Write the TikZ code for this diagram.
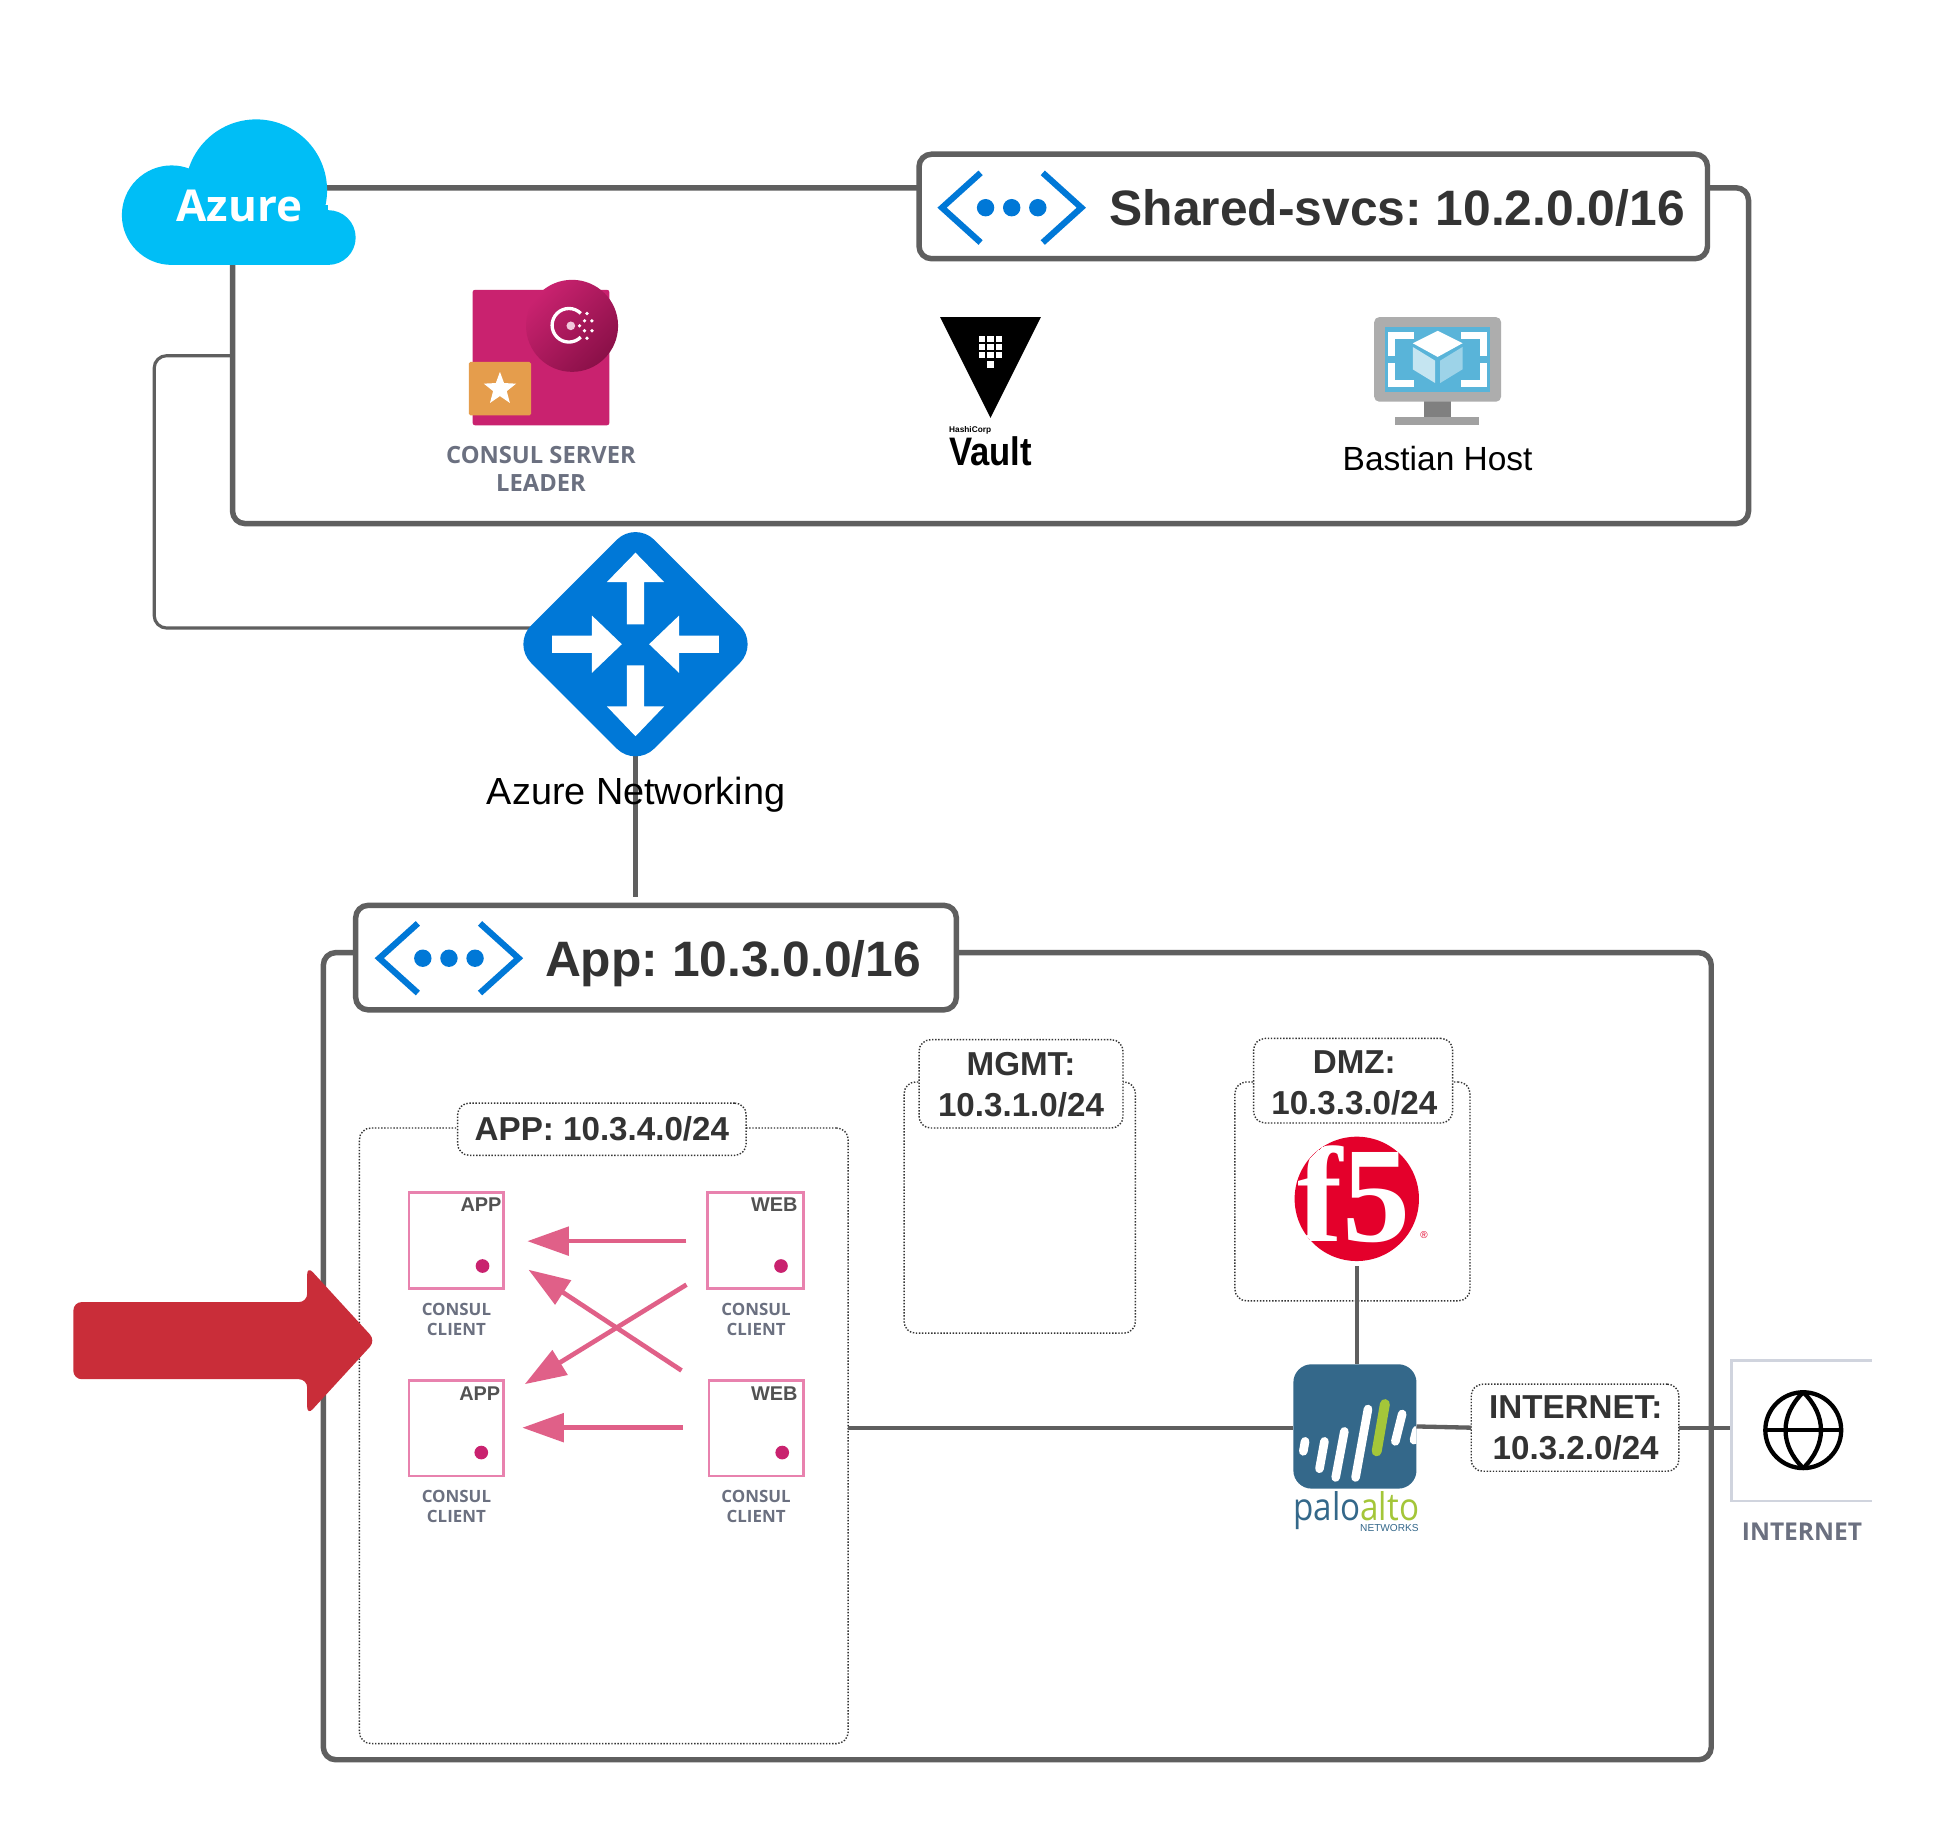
\documentclass[tikz,border=0pt]{standalone}
\usepackage{fontspec}
\setmainfont{Liberation Sans}
\newfontfamily\opensf{Open Sans}
\newfontfamily\serifb{Liberation Serif}
\usetikzlibrary{fit,shapes.geometric,arrows.meta}
\frenchspacing
\definecolor{wirec}{HTML}{5F5F5F}
\definecolor{azblue}{HTML}{0078D7}
\definecolor{cloudc}{HTML}{00BEF6}
\definecolor{txtdark}{HTML}{333333}
\definecolor{txtgray}{HTML}{6B7080}
\definecolor{consulc}{HTML}{C9226F}
\definecolor{consuld}{HTML}{8A1048}
\definecolor{consulo}{HTML}{E59D4C}
\definecolor{pinkb}{HTML}{E882AE}
\definecolor{pinka}{HTML}{E06088}
\definecolor{redc}{HTML}{C92D39}
\definecolor{paloc}{HTML}{34688A}
\definecolor{palog}{HTML}{A4C639}
\definecolor{f5red}{HTML}{E4002B}
\definecolor{vmscreen}{HTML}{59B4D9}
\definecolor{vmleft}{HTML}{C5E5F1}
\definecolor{vmright}{HTML}{9DD3E8}
\definecolor{inetb}{HTML}{D0D4DE}
\tikzset{
  bigbox/.style={draw=wirec,line width=3.3pt,rounded corners=7.5pt,inner sep=0pt,outer sep=0pt},
  labelbox/.style={bigbox,fill=white},
  subnet/.style={draw=black!80,line width=.85pt,dash pattern=on .85pt off 1pt,rounded corners=7pt,inner sep=0pt,outer sep=0pt},
  sublabel/.style={subnet,fill=white},
  card/.style={draw=pinkb,line width=1.5pt,inner sep=0pt,outer sep=0pt},
  wire/.style={draw=wirec,line width=2.6pt},
  thinwire/.style={draw=wirec,line width=1.9pt,rounded corners=7.5pt},
  flow/.style={draw=pinka,fill=pinka,line width=2.8pt,-{Triangle[length=25pt,width=17pt]}},
  bigtxt/.style={font=\bfseries\fontsize{30}{36}\selectfont,text=txtdark,inner sep=0pt},
  subtxt/.style={font=\bfseries\fontsize{20}{24.75}\selectfont,text=txtdark,align=center,inner sep=0pt},
  ctxt/.style={font=\opensf\bfseries\fontsize{10.2}{12}\selectfont,text=txtgray,align=center,inner sep=0pt},
  cardtxt/.style={font=\bfseries\fontsize{12}{14}\selectfont,text=black!68,inner sep=0pt,anchor=east},
  vnet/.pic={
    \draw[azblue,line width=3.75pt] (-25,-28)--(-56,0)--(-25,28);
    \draw[azblue,line width=3.75pt] (25,-28)--(56,0)--(25,28);
    \foreach \p in {-21,0,21}{\fill[azblue] (\p,0) circle[radius=7];}
  }
}
\begin{document}
\begin{tikzpicture}[x=.75pt,y=-.75pt]
\useasboundingbox (0,0) rectangle (1568,1476.3);
\fill[white] (0,0) rectangle (1568,1476.3);

% outer boxes
\node[bigbox,fit={(187,151)(1406,421)}] (sharedbox) {};
\node[bigbox,fit={(260,766)(1376,1415)}] (appbox) {};

% wires
\coordinate (wa) at (187,286);
\coordinate (wb) at (124,286);
\coordinate (wc) at (124,505);
\coordinate (wd) at (445,505);
\coordinate (we) at (511,721);
\draw[thinwire] (wa) -- (wb) -- (wc) -- (wd);

% cloud
\node[inner sep=0pt,minimum size=1pt] (azure) at (192.5,166) {};
\fill[cloudc] (206,153) circle[radius=57];
\fill[cloudc] (138,173) circle[radius=40];
\fill[cloudc] (264,191) circle[radius=22];
\fill[cloudc] (138,165) rectangle (264,213);
\node[font=\opensf\bfseries\fontsize{26.5}{30}\selectfont,text=white,inner sep=0pt] at (azure) {Azure};

% shared label
\node[labelbox,fit={(739,124)(1373,208)}] (sharedlabel) {};
\pic at (813.5,167) {vnet};
\node[bigtxt,anchor=west] (sharedtxt) at (892,167) {Shared-svcs: 10.2.0.0/16};

% consul server
\fill[consulc,rounded corners=1.5pt] (380,233) rectangle (490,342);
\shade[left color=consulc,right color=consuld,shading angle=45] (460,262) circle[radius=37];
\draw[white,line width=2pt] (467,252) arc[start angle=-45,end angle=-315,radius=13.5];
\fill[white!75!consulc] (459,262) circle[radius=3.5];
\foreach \a/\b in {472/252,470/258,476/258,466/262,470/266,476/266,472/272}{\fill[white] (\a,\b) circle[radius=1.5];}
\fill[consulo,rounded corners=1pt] (377,291) rectangle (427,334);
\fill[white] (402,299) -- (405.3,308) -- (415,308.5) -- (407.5,314.5) -- (410,324) -- (402,318.5) -- (394,324) -- (396.5,314.5) -- (389,308.5) -- (398.7,308) -- cycle;
\node[font=\opensf\bfseries\fontsize{14.3}{17.25}\selectfont,text=txtgray,align=center,inner sep=0pt] (consultxt) at (435,377) {CONSUL SERVER\\LEADER};

% vault
\fill[black] (756,255) -- (837,255) -- (796.5,336) -- cycle;
\foreach \yy in {272.5,279,285.5}{\foreach \xx in {789.5,796.5,803.5}{\fill[white] (\xx-2.6,\yy-2.6) rectangle (\xx+2.6,\yy+2.6);}}
\fill[white] (793.9,290.4) rectangle (799.1,295.6);
\node[font=\bfseries\fontsize{5}{6}\selectfont,anchor=west,inner sep=0pt] at (763,346) {HashiCorp};
\node[font=\bfseries\fontsize{24}{28}\selectfont,anchor=west,inner sep=0pt] at (763,363) {\scalebox{.87}[1]{Vault}};

% bastian
\fill[black!50] (1145,320) rectangle (1167,336);
\fill[black!37] (1122,335) rectangle (1189,342);
\fill[black!32,rounded corners=3pt] (1105,255) rectangle (1207,323);
\fill[vmscreen] (1114,263) rectangle (1198,315);
\foreach \sx/\sy in {-1/-1,1/-1,-1/1,1/1}{
  \draw[white,line width=4.2pt] (1156+\sx*19,289+\sy*19) -- (1156+\sx*37,289+\sy*19) -- (1156+\sx*37,289+\sy*3);
}
\fill[white] (1156,266) -- (1176,276) -- (1156,287) -- (1136,276) -- cycle;
\fill[vmleft] (1136,279) -- (1154,290) -- (1154,308) -- (1136,297) -- cycle;
\fill[vmright] (1158,290) -- (1176,279) -- (1176,297) -- (1158,308) -- cycle;
\node[font=\fontsize{20.2}{24}\selectfont,inner sep=0pt] (bastian) at (1156,369) {Bastian Host};

% router
\draw[wire] (511,560) coordinate (rr) -- (we);
\node[diamond,aspect=1,fill=azblue,inner sep=0pt,outer sep=0pt,minimum width=148.5pt,minimum height=148.5pt,rounded corners=16pt] (router) at (511,518) {};
\begin{scope}[shift={(511,518)}]
\fill[white] (0,-73.6) -- (23,-50) -- (7,-50) -- (7,-16) -- (-7,-16) -- (-7,-50) -- (-23,-50) -- cycle;
\fill[white] (0,74) -- (23,50) -- (7,50) -- (7,17) -- (-7,17) -- (-7,50) -- (-23,50) -- cycle;
\fill[white] (-11,0) -- (-35,-23) -- (-35,-7) -- (-67,-7) -- (-67,7) -- (-35,7) -- (-35,23) -- cycle;
\fill[white] (11,0) -- (35,-23) -- (35,-7) -- (67,-7) -- (67,7) -- (35,7) -- (35,23) -- cycle;
\end{scope}
\node[font=\fontsize{22.8}{27}\selectfont,inner sep=0pt] (routertxt) at (511.5,639) {Azure Networking};

% app label
\node[labelbox,fit={(286,728)(769,812)}] (applabel) {};
\pic at (361,770.5) {vnet};
\node[bigtxt,anchor=west] (apptxt) at (438,774.5) {App: 10.3.0.0/16};

% subnets
\node[subnet,fit={(289,907)(682,1402)}] (appsub) {};
\node[sublabel,fit={(368,887)(600,929)}] (applbl) {};
\node[subtxt] at (applbl) {APP: 10.3.4.0/24};
\node[subnet,fit={(727,870)(913,1072)}] (mgmtsub) {};
\node[sublabel,fit={(739,836)(903,907)}] (mgmtlbl) {};
\node[subtxt] at (821,872) {MGMT:\\10.3.1.0/24};
\node[subnet,fit={(993,870)(1182,1046)}] (dmzsub) {};
\node[sublabel,fit={(1008,835)(1168,903)}] (dmzlbl) {};
\node[subtxt] at (1089,871) {DMZ:\\10.3.3.0/24};

% cards
\node[card,fit={(329,959)(405,1036)}] (app1) {};
\node[card,fit={(569,959)(646,1036)}] (web1) {};
\node[card,fit={(329,1110)(405,1187)}] (app2) {};
\node[card,fit={(570,1110)(646,1187)}] (web2) {};
\node[cardtxt] at (403.5,969) {APP};
\node[cardtxt] at (641.5,969) {WEB};
\node[cardtxt] at (402.5,1121) {APP};
\node[cardtxt] at (641.5,1121) {WEB};
\foreach \a/\b in {388/1018,628/1018,387/1168,629/1168}{\fill[consulc] (\a,\b) circle[radius=5.5];}
\node[ctxt] at (367,1061) {CONSUL\\CLIENT};
\node[ctxt] at (608,1061) {CONSUL\\CLIENT};
\node[ctxt] at (367,1211) {CONSUL\\CLIENT};
\node[ctxt] at (608,1211) {CONSUL\\CLIENT};

% pink arrows
\coordinate (f1a) at (552,998); \coordinate (f1b) at (424,998);
\coordinate (f2a) at (548,1102); \coordinate (f2b) at (425,1021);
\coordinate (f3a) at (552,1033); \coordinate (f3b) at (422,1113);
\coordinate (f4a) at (549,1148); \coordinate (f4b) at (420,1148);
\draw[flow] (f1a) -- (f1b);
\draw[flow] (f2a) -- (f2b);
\draw[flow] (f3a) -- (f3b);
\draw[flow] (f4a) -- (f4b);

% red arrow
\fill[redc,rounded corners=5pt] (59,1047) -- (247,1047) -- (247,1018) -- (302,1078) -- (247,1138) -- (247,1109) -- (59,1109) -- cycle;

% f5
\node[inner sep=0pt,outer sep=0pt,circle,minimum size=75pt,fill=f5red] (f5logo) at (1091,964) {};
\begin{scope}
\clip (1091,964) circle[radius=50];
\node[font=\serifb\bfseries\fontsize{82}{82}\selectfont,text=white,inner sep=0pt] at (1089,960) {f5};
\end{scope}
\node[font=\fontsize{6}{7}\selectfont,text=f5red,inner sep=0pt] at (1145,993) {®};

% palo alto
\node[fill=paloc,rounded corners=11pt,inner sep=0pt,outer sep=0pt,fit={(1040,1097)(1139,1197)}] (palo) {};
\draw[wire] (f5logo.south) ++(0,4) -- (f5logo.south |- palo.north);
\coordinate (c1) at (682,1148.5);
\draw[wire] (c1) -- (c1 -| palo.west);
\begin{scope}[line cap=round,line width=5.2pt,white]
\draw (1049.4,1159) -- (1048,1167);
\draw (1065,1159) -- (1061,1181);
\draw (1081,1151) -- (1074,1188);
\draw (1100,1133) -- (1090,1188);
\draw[palog,line width=6pt] (1113.6,1129) -- (1107,1167);
\draw (1127.5,1137) -- (1122,1159);
\clip (1040,1097) rectangle (1139,1197);
\draw (1139,1150) -- (1137,1158);
\end{scope}
\node[font=\opensf\fontsize{23}{26}\selectfont,inner sep=0pt] (palotxt) at (1090.5,1215) {\scalebox{.87}[1]{\textcolor{paloc}{palo}\textcolor{palog}{alto}}};
\node[font=\fontsize{6.1}{7}\selectfont,text=paloc,anchor=east,inner sep=0pt] at (1141,1229) {NETWORKS};

% internet
\node[sublabel,fit={(1183,1113)(1350,1183)}] (inetlbl) {};
\node[subtxt] at (1267,1148.5) {INTERNET:\\10.3.2.0/24};
\draw[wire] (palo.east) -- (inetlbl.west);
\node[inner sep=0pt,outer sep=0pt,fit={(1392,1094)(1505,1207)}] (inetbox) {};
\draw[wire] (inetlbl.east) -- (inetlbl.east -| inetbox.west);
\fill[white] (1393,1095) rectangle (1505,1206);
\draw[draw=inetb,line width=1.7pt] (1505,1094) -- (1392,1094) -- (1392,1207) -- (1505,1207);
\begin{scope}[line width=2.6pt,black]
\draw (1450,1150) circle[radius=30.5];
\draw (1419.5,1150) -- (1480.5,1150);
\draw (1450,1119.5) .. controls (1431,1138) and (1431,1162) .. (1450,1180.5);
\draw (1450,1119.5) .. controls (1469,1138) and (1469,1162) .. (1450,1180.5);
\end{scope}
\node[font=\opensf\bfseries\fontsize{14.8}{17}\selectfont,text=txtgray,inner sep=0pt] (inettxt) at (1449,1232) {INTERNET};
\end{tikzpicture}
\end{document}
